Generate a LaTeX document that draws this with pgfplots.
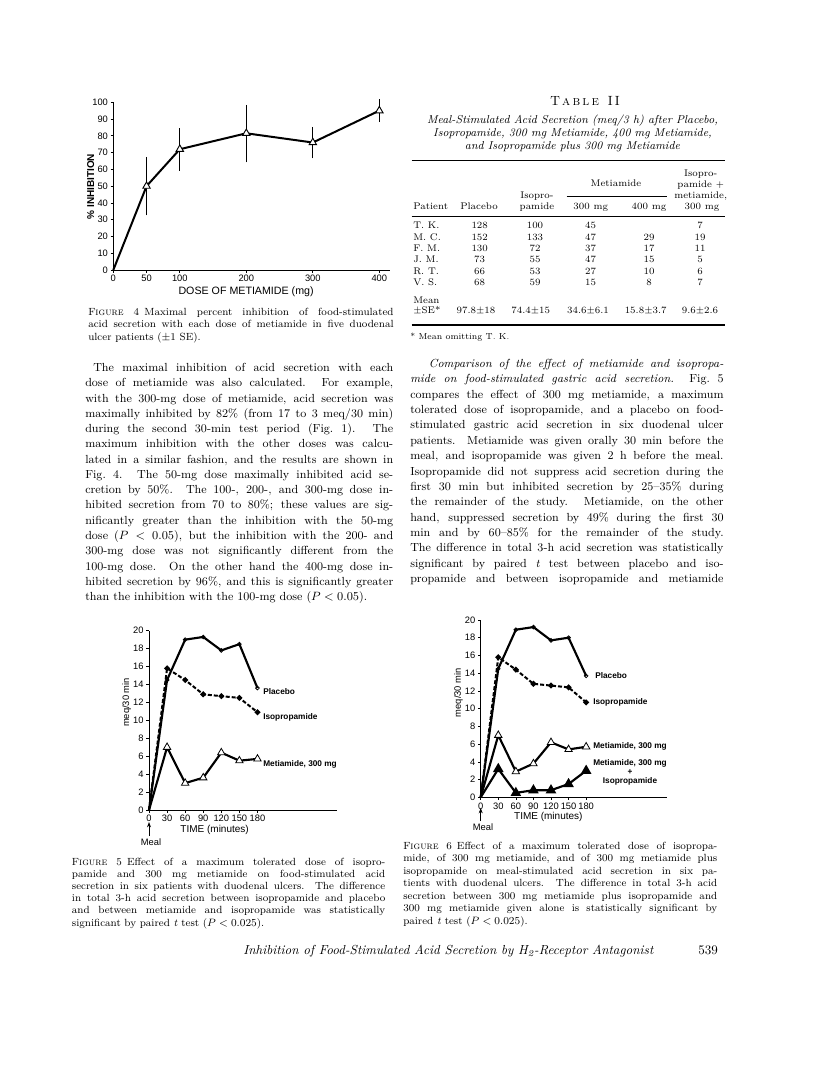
\documentclass[border=0pt]{standalone}
\usepackage{fontspec}
\setsansfont{Liberation Sans}
\usepackage{pgfplots}
\pgfplotsset{compat=1.18}
\usetikzlibrary{arrows.meta}

\newcommand\bodyfont{\fontsize{8.8}{10.5}\selectfont}
\newcommand\capfont{\fontsize{7.8}{9}\selectfont}
\newcommand\tabfont{\fontsize{7.2}{8.5}\selectfont}
\newcommand\lblfont{\sffamily\bfseries\fontsize{6.2}{7}\selectfont}
\newcommand\tckfont{\sffamily\fontsize{7}{8}\selectfont}

\pgfplotsset{
  page/.style={
    scale only axis, anchor=south west, clip=false,
    axis x line*=bottom, axis y line*=left,
    axis line style={line width=0.6pt},
    tick align=outside, major tick length=2pt,
    tick style={line width=0.5pt, black},
    ticklabel style={font=\tckfont},
    yticklabel style={xshift=1.5pt},
    xticklabel style={yshift=1.5pt},
    /pgf/number format/assume math mode=true,
    xlabel style={font=\sffamily\fontsize{7.5}{9}\selectfont, anchor=center},
    ylabel style={font=\sffamily\fontsize{7}{8}\selectfont, anchor=center},
  },
  curve/.style={line width=1.6pt, mark indices={2,3,4,5,6,7}},
}

\begin{document}
\begin{tikzpicture}
\begin{scope}[x=0.75pt,y=-0.75pt]
\fill[white] (0,0) rectangle (816,1084);
\path[use as bounding box] (0,0) rectangle (816,1084);
\coordinate (f4) at (113.3,270);
\coordinate (f5) at (149,810);
\coordinate (f6) at (480.7,797.3);

% Figure 4 caption
\foreach \L [count=\i from 0] in {
  {F\textsc{igure} 4\enspace Maximal percent inhibition of food-stimulated},
  {acid secretion with each dose of metiamide in five duodenal}}
  \node[anchor=base west, inner sep=0, font=\capfont] at (88,315+12.7*\i) {\makebox[229pt][s]{\L}};
\node[anchor=base west, inner sep=0, font=\capfont] at (88,340.4) {ulcer patients ($\pm$1 SE).};

% left column text
\foreach \L [count=\i from 0] in {
  {\hspace*{6pt}The maximal inhibition of acid secretion with each},
  {dose of metiamide was also calculated. For example,},
  {with the 300-mg dose of metiamide, acid secretion was},
  {maximally inhibited by 82\% (from 17 to 3 meq/30 min)},
  {during the second 30-min test period (Fig.~1). The},
  {maximum inhibition with the other doses was calcu-},
  {lated in a similar fashion, and the results are shown in},
  {Fig.~4. The 50-mg dose maximally inhibited acid se-},
  {cretion by 50\%. The 100-, 200-, and 300-mg dose in-},
  {hibited secretion from 70 to 80\%; these values are sig-},
  {nificantly greater than the inhibition with the 50-mg},
  {dose ($P<0.05$), but the inhibition with the 200- and},
  {300-mg dose was not significantly different from the},
  {100-mg dose. On the other hand the 400-mg dose in-},
  {hibited secretion by 96\%, and this is significantly greater}}
  \node[anchor=base west, inner sep=0, font=\bodyfont] at (85,371.5+15.27*\i) {\makebox[231pt][s]{\L}};
\node[anchor=base west, inner sep=0, font=\bodyfont] at (85,600.5) {than the inhibition with the 100-mg dose ($P<0.05$).};

% Table II
\node[anchor=mid, font=\fontsize{10}{12}\selectfont] at (585,103) {T\,\textsc{a\,b\,l\,e}\ \ I\,I};
\foreach \L [count=\i from 0] in {
  {Meal-Stimulated Acid Secretion (meq/3 h) after Placebo,},
  {Isopropamide, 300 mg Metiamide, 400 mg Metiamide,},
  {and Isopropamide plus 300 mg Metiamide}}
  \node[anchor=mid, inner sep=0, font=\fontsize{8.6}{10}\selectfont\itshape] at (572.5,121+12.85*\i) {\L};
\draw[line width=1.1pt] (411.7,160.7) -- (725,160.7);
\draw[line width=0.5pt] (566.7,196.7) -- (666.7,196.7);
\draw[line width=0.6pt] (411.7,216.7) -- (725,216.7);
\draw[line width=1.1pt] (411.7,325) -- (725,325);
\begin{scope}[every node/.style={anchor=mid, inner sep=0, font=\tabfont}]
\node at (700.7,173.3) {Isopro-};
\node at (700.7,185) {pamide $+$};
\node at (700.7,196) {metiamide,};
\node at (616,184) {Metiamide};
\node at (537,196) {Isopro-};
\node[anchor=mid west] at (413,206.7) {Patient};
\node at (479,206.7) {Placebo};
\node at (537,206.7) {pamide};
\node at (590.7,206.7) {300 mg};
\node at (649,206.7) {400 mg};
\node at (702,206.7) {300 mg};
\foreach \n/\a/\b/\c/\d/\e [count=\i from 0] in {
  T. K./128/100/45//7, M. C./152/133/47/29/19, F. M./130/72/37/17/11,
  J. M./73/55/47/15/5, R. T./66/53/27/10/6, V. S./68/59/15/8/7}{
  \node[anchor=mid west] at (413,226+11.34*\i) {\n};
  \node at (479.7,226+11.34*\i) {\a};
  \node at (535,226+11.34*\i) {\b};
  \node at (590.5,226+11.34*\i) {\c};
  \node at (649,226+11.34*\i) {\d};
  \node at (700,226+11.34*\i) {\e};
}
\node[anchor=mid west] at (413,300.7) {Mean};
\node[anchor=mid west] at (413,311) {$\pm$SE*};
\node at (476,311) {97.8$\pm$18};
\node at (530.7,311) {74.4$\pm$15};
\node at (588,311) {34.6$\pm$6.1};
\node at (645.7,311) {15.8$\pm$3.7};
\node at (700,311) {9.6$\pm$2.6};
\end{scope}
\node[anchor=mid west, inner sep=0, font=\fontsize{6.5}{8}\selectfont] at (410,337) {* Mean omitting T. K.};

% right column text
\foreach \L [count=\i from 0] in {
  {\hspace*{14pt}\textit{Comparison of the effect of metiamide and isopropa-}},
  {\textit{mide on food-stimulated gastric acid secretion.}\ \ Fig.~5},
  {compares the effect of 300 mg metiamide, a maximum},
  {tolerated dose of isopropamide, and a placebo on food-},
  {stimulated gastric acid secretion in six duodenal ulcer},
  {patients. Metiamide was given orally 30 min before the},
  {meal, and isopropamide was given 2 h before the meal.},
  {Isopropamide did not suppress acid secretion during the},
  {first 30 min but inhibited secretion by 25--35\% during},
  {the remainder of the study. Metiamide, on the other},
  {hand, suppressed secretion by 49\% during the first 30},
  {min and by 60--85\% for the remainder of the study.},
  {The difference in total 3-h acid secretion was statistically},
  {significant by paired \textit{t} test between placebo and iso-},
  {propamide and between isopropamide and metiamide}}
  \node[anchor=base west, inner sep=0, font=\bodyfont] at (410,367.5+15.36*\i) {\makebox[235pt][s]{\L}};

% curve labels, Figure 5
\node[anchor=mid west, inner sep=0, font=\lblfont] at (263,691.7) {Placebo};
\node[anchor=mid west, inner sep=0, font=\lblfont] at (263,716.7) {Isopropamide};
\node[anchor=mid west, inner sep=0, font=\lblfont] at (263,764) {Metiamide, 300 mg};
\draw[-{Stealth[length=4pt,width=3pt]}, line width=0.6pt] (149,836) -- (149,822);
\node[anchor=mid, inner sep=0, font=\sffamily\fontsize{7}{8}\selectfont] at (151,843) {Meal};

% curve labels, Figure 6
\node[anchor=mid west, inner sep=0, font=\lblfont] at (595,676) {Placebo};
\node[anchor=mid west, inner sep=0, font=\lblfont] at (593,701.7) {Isopropamide};
\node[anchor=mid west, inner sep=0, font=\lblfont] at (593,746) {Metiamide, 300 mg};
\node[anchor=mid, inner sep=0, font=\lblfont] at (630,762.7) {Metiamide, 300 mg};
\node[anchor=mid, inner sep=0, font=\lblfont] at (630,771.7) {+};
\node[anchor=mid, inner sep=0, font=\lblfont] at (630,780.7) {Isopropamide};
\draw[-{Stealth[length=4pt,width=3pt]}, line width=0.6pt] (480.7,821) -- (480.7,808);
\node[anchor=mid, inner sep=0, font=\sffamily\fontsize{7}{8}\selectfont] at (483,827.5) {Meal};

% Figure 5 caption
\foreach \L [count=\i from 0] in {
  {F\textsc{igure} 5\enspace Effect of a maximum tolerated dose of isopro-},
  {pamide and 300 mg metiamide on food-stimulated acid},
  {secretion in six patients with duodenal ulcers. The difference},
  {in total 3-h acid secretion between isopropamide and placebo},
  {and between metiamide and isopropamide was statistically}}
  \node[anchor=base west, inner sep=0, font=\capfont] at (71.7,865+12.2*\i) {\makebox[235pt][s]{\L}};
\node[anchor=base west, inner sep=0, font=\capfont] at (71.7,926) {significant by paired \textit{t} test ($P<0.025$).};

% Figure 6 caption
\foreach \L [count=\i from 0] in {
  {F\textsc{igure} 6\enspace Effect of a maximum tolerated dose of isopropa-},
  {mide, of 300 mg metiamide, and of 300 mg metiamide plus},
  {isopropamide on meal-stimulated acid secretion in six pa-},
  {tients with duodenal ulcers. The difference in total 3-h acid},
  {secretion between 300 mg metiamide plus isopropamide and},
  {300 mg metiamide given alone is statistically significant by}}
  \node[anchor=base west, inner sep=0, font=\capfont] at (403,849.5+12.45*\i) {\makebox[235.5pt][s]{\L}};
\node[anchor=base west, inner sep=0, font=\capfont] at (403,924.2) {paired \textit{t} test ($P<0.025$).};

% running foot
\node[anchor=base west, inner sep=0, font=\fontsize{9.8}{11}\selectfont\itshape] at (243,954) {Inhibition of Food-Stimulated Acid Secretion by H\textsubscript{2}-Receptor Antagonist};
\node[anchor=base west, inner sep=0, font=\fontsize{9.8}{11}\selectfont] at (698,954) {539};
\end{scope}

% Figure 4
\begin{axis}[page, at={(f4)}, width=207.5pt, height=125.8pt,
  xmin=0, xmax=416, ymin=0, ymax=100,
  xtick={0,50,100,200,300,400}, ytick={0,10,...,100},
  xlabel={DOSE OF METIAMIDE (mg)}, ylabel={\textbf{\% INHIBITION}},
  xlabel style={at={(axis description cs:0.48,-0.131)}, font=\sffamily\fontsize{8}{9}\selectfont},
  ylabel style={at={(axis description cs:-0.082,0.497)}, font=\sffamily\fontsize{7.5}{9}\selectfont}]
\addplot[line width=1.5pt] table[x=x,y=y] {
x y
0 0
50 50
100 72
200 81.5
300 76
400 95
};
\addplot[only marks, mark=triangle*, mark size=3.2pt,
  mark options={fill=white, line width=0.7pt},
  error bars/.cd, y dir=both, y explicit,
  error bar style={line width=0.6pt},
  error mark options={mark size=3pt, line width=0.6pt}]
  table[x=x, y=y, y error plus=ep, y error minus=em] {
x y ep em
50 50 15 15
100 72 10 10.5
200 81.5 14.5 15
300 76 7 7
400 95 4.4 4.5
};
\end{axis}

% Figure 5
\begin{axis}[page, at={(f5)}, width=141pt, height=134.5pt,
  xmin=0, xmax=312, ymin=0, ymax=20,
  xtick={0,30,60,90,120,150,180}, ytick={0,2,...,20},
  xlabel={TIME (minutes)}, ylabel={meq/30 min},
  xlabel style={at={(axis description cs:0.349,-0.112)}},
  ylabel style={at={(axis description cs:-0.118,0.6)}}]
\addplot[curve, line width=1.5pt, dash pattern=on 3pt off 1.5pt, mark=*, mark size=1.3pt, mark options={solid}] coordinates {
  (0,0) (30,15.8) (60,14.5) (90,12.9) (120,12.7) (150,12.5) (180,10.9)};
\addplot[curve, mark=o, mark size=1.4pt, mark options={fill=white, line width=0.6pt}] coordinates {
  (0,0) (30,14.5) (60,19.0) (90,19.3) (120,17.8) (150,18.5) (180,13.6)};
\addplot[curve, mark=triangle*, mark size=3.2pt, mark options={fill=white, line width=0.6pt}] coordinates {
  (0,0) (30,7.0) (60,3.0) (90,3.6) (120,6.4) (150,5.5) (180,5.7)};
\end{axis}

% Figure 6
\begin{axis}[page, at={(f6)}, width=139.7pt, height=133pt,
  xmin=0, xmax=318, ymin=0, ymax=20,
  xtick={0,30,60,90,120,150,180}, ytick={0,2,...,20},
  xlabel={TIME (minutes)}, ylabel={meq/30 min},
  xlabel style={at={(axis description cs:0.363,-0.11)}},
  ylabel style={at={(axis description cs:-0.12,0.59)}}]
\addplot[curve, line width=1.5pt, dash pattern=on 3pt off 1.5pt, mark=*, mark size=1.3pt, mark options={solid}] coordinates {
  (0,0) (30,15.8) (60,14.4) (90,12.8) (120,12.6) (150,12.4) (180,10.7)};
\addplot[curve, mark=o, mark size=1.4pt, mark options={fill=white, line width=0.6pt}] coordinates {
  (0,0) (30,14.5) (60,18.9) (90,19.2) (120,17.7) (150,18.0) (180,13.7)};
\addplot[curve, mark=triangle*, mark size=3.2pt, mark options={fill=white, line width=0.6pt}] coordinates {
  (0,0) (30,7.0) (60,2.9) (90,3.8) (120,6.2) (150,5.4) (180,5.7)};
\addplot[curve, mark=triangle*, mark size=3pt, mark options={fill=black}] coordinates {
  (0,0) (30,3.2) (60,0.5) (90,0.8) (120,0.8) (150,1.5) (180,3.0)};
\end{axis}
\end{tikzpicture}
\end{document}
